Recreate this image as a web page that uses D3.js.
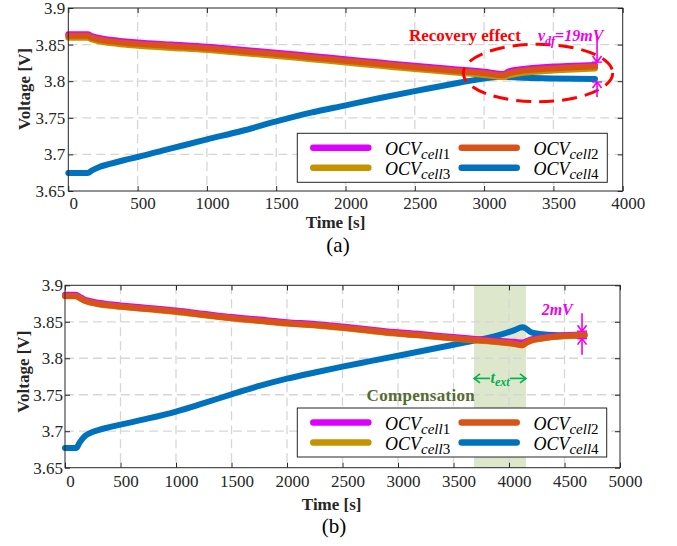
<!DOCTYPE html>
<html>
<head>
<meta charset="utf-8">
<script src="https://cdn.jsdelivr.net/npm/d3@7"></script>
<style>
  html, body { margin: 0; padding: 0; background: #fff; }
  svg { display: block; }
</style>
</head>
<body>
<svg id="chart" width="677" height="546"></svg>
<script>
// ---------- data: panel (a), no compensation ----------
const timeA = [0, 140, 170, 220, 300, 400, 500, 750, 1000, 1250, 1500, 1750, 2000, 2250, 2500, 2750, 3000, 3140, 3180, 3250, 3350, 3500, 3650, 3800];
const cell1A = [3.864, 3.864, 3.8615, 3.859, 3.8565, 3.8545, 3.853, 3.850, 3.847, 3.843, 3.839, 3.8345, 3.830, 3.8255, 3.821, 3.817, 3.813, 3.810, 3.8135, 3.816, 3.818, 3.820, 3.821, 3.822];
const cell2A = [3.862, 3.862, 3.8595, 3.857, 3.8545, 3.8525, 3.851, 3.848, 3.845, 3.841, 3.837, 3.8325, 3.828, 3.8235, 3.819, 3.815, 3.811, 3.808, 3.811, 3.8135, 3.8155, 3.8175, 3.819, 3.820];
const cell3A = [3.8595, 3.8595, 3.857, 3.8545, 3.852, 3.850, 3.8485, 3.8455, 3.8425, 3.8385, 3.8345, 3.830, 3.8255, 3.821, 3.8165, 3.8125, 3.8085, 3.8058, 3.808, 3.8105, 3.8125, 3.8145, 3.816, 3.8175];
const cell4A = [3.6745, 3.6745, 3.678, 3.6825, 3.687, 3.692, 3.6965, 3.7085, 3.7205, 3.732, 3.745, 3.757, 3.767, 3.777, 3.7865, 3.7955, 3.8035, 3.8065, 3.8058, 3.805, 3.8043, 3.8036, 3.8032, 3.803];

// ---------- data: panel (b), with compensation ----------
const timeB = [0, 100, 130, 170, 220, 300, 400, 500, 750, 1000, 1250, 1500, 1750, 2000, 2250, 2500, 2750, 3000, 3250, 3500, 3700, 3900, 4050, 4120, 4150, 4200, 4300, 4400, 4550, 4680];
const cell1B = [3.887, 3.887, 3.8845, 3.881, 3.8785, 3.876, 3.874, 3.8725, 3.869, 3.8655, 3.861, 3.8565, 3.853, 3.8495, 3.847, 3.8435, 3.8395, 3.8355, 3.8325, 3.829, 3.8265, 3.824, 3.8225, 3.8215, 3.823, 3.826, 3.8285, 3.8305, 3.832, 3.833];
const cell2B = [3.8855, 3.8855, 3.883, 3.8795, 3.877, 3.8745, 3.8725, 3.871, 3.8675, 3.864, 3.8595, 3.855, 3.8515, 3.848, 3.8455, 3.842, 3.838, 3.834, 3.831, 3.8275, 3.825, 3.8225, 3.820, 3.818, 3.821, 3.8245, 3.8275, 3.8295, 3.831, 3.832];
const cell3B = [3.885, 3.885, 3.8825, 3.879, 3.8765, 3.874, 3.872, 3.8705, 3.867, 3.8635, 3.859, 3.8545, 3.851, 3.8475, 3.845, 3.8415, 3.8375, 3.8335, 3.8305, 3.827, 3.8245, 3.822, 3.8195, 3.8178, 3.8205, 3.824, 3.827, 3.829, 3.8305, 3.8315];
const cell4B = [3.677, 3.677, 3.684, 3.692, 3.697, 3.7015, 3.7055, 3.709, 3.7175, 3.727, 3.7385, 3.7505, 3.762, 3.772, 3.7805, 3.7885, 3.796, 3.8035, 3.811, 3.8185, 3.8245, 3.8315, 3.8385, 3.8425, 3.841, 3.8355, 3.833, 3.8318, 3.8313, 3.831];
const compensationWindow = [3685, 4153];

// ---------- axes and legend ----------
const xTicksA = [0, 500, 1000, 1500, 2000, 2500, 3000, 3500, 4000];
const xTicksB = [0, 500, 1000, 1500, 2000, 2500, 3000, 3500, 4000, 4500, 5000];
const yTicks = [3.65, 3.7, 3.75, 3.8, 3.85, 3.9];
const yTickLabels = ["3.65", "3.7", "3.75", "3.8", "3.85", "3.9"];
const cellNames = ["cell1", "cell2", "cell3", "cell4"];
const cellColors = { cell1: "#dd00ff", cell2: "#d95319", cell3: "#c39300", cell4: "#0072bd" };
const drawOrder = ["cell4", "cell1", "cell3", "cell2"];

const FONT = '"Liberation Serif", "Times New Roman", Times, serif';
const svg = d3.select("#chart");
svg.append("rect").attr("width", 677).attr("height", 546).attr("fill", "#fff");

function drawPanel(cfg) {
  const g = svg.append("g");
  const x = d3.scaleLinear().domain([0, cfg.xMax]).range([cfg.left, cfg.right]);
  const y = d3.scaleLinear().domain([3.65, 3.9]).range([cfg.bottom, cfg.top]);

  // compensation window shading
  if (cfg.band) {
    g.append("rect")
      .attr("x", x(cfg.band[0])).attr("y", cfg.top)
      .attr("width", x(cfg.band[1]) - x(cfg.band[0]))
      .attr("height", cfg.bottom - cfg.top)
      .attr("fill", "#dde7cb");
  }

  // dashed grid
  const grid = g.append("g").attr("stroke", "#d6d6d6").attr("stroke-width", 1.3).attr("stroke-dasharray", "9,5");
  grid.selectAll(".gx").data(cfg.xTicks.slice(1, -1)).join("line")
    .attr("x1", d => x(d)).attr("x2", d => x(d)).attr("y1", cfg.top).attr("y2", cfg.bottom);
  grid.selectAll(".gy").data(yTicks.slice(1, -1)).join("line")
    .attr("y1", d => y(d)).attr("y2", d => y(d)).attr("x1", cfg.left).attr("x2", cfg.right);

  // voltage curves
  const line = d3.line().x(d => x(d[0])).y(d => y(d[1])).curve(d3.curveMonotoneX);
  drawOrder.forEach(name => {
    const pts = cfg.time.map((t, i) => [t, cfg.series[name][i]]);
    g.append("path").datum(pts)
      .attr("d", line)
      .attr("fill", "none")
      .attr("stroke", cellColors[name])
      .attr("stroke-width", 6)
      .attr("stroke-linecap", "round")
      .attr("stroke-linejoin", "round");
  });

  // axes: ticks pointing inward on all four sides
  const axisColor = "#262626";
  const bottom = g.append("g").attr("transform", `translate(0,${cfg.bottom})`)
    .call(d3.axisBottom(x).tickValues(cfg.xTicks).tickFormat(d3.format("d"))
      .tickSizeInner(-5).tickSizeOuter(0).tickPadding(cfg.xPad));
  const left = g.append("g").attr("transform", `translate(${cfg.left},0)`)
    .call(d3.axisLeft(y).tickValues(yTicks).tickFormat((d, i) => yTickLabels[i])
      .tickSizeInner(-5).tickSizeOuter(0).tickPadding(cfg.yPad));
  const top = g.append("g").attr("transform", `translate(0,${cfg.top})`)
    .call(d3.axisTop(x).tickValues(cfg.xTicks).tickFormat("").tickSizeInner(-5).tickSizeOuter(0));
  const right = g.append("g").attr("transform", `translate(${cfg.right},0)`)
    .call(d3.axisRight(y).tickValues(yTicks).tickFormat("").tickSizeInner(-5).tickSizeOuter(0));
  [bottom, left, top, right].forEach(a => {
    a.select(".domain").remove();
    a.selectAll(".tick line").attr("stroke", axisColor);
    a.selectAll("text").attr("font-family", FONT).attr("font-size", 17).attr("fill", "#262626");
  });
  bottom.selectAll("text").attr("dx", 5);
  g.append("rect")
    .attr("x", cfg.left).attr("y", cfg.top)
    .attr("width", cfg.right - cfg.left).attr("height", cfg.bottom - cfg.top)
    .attr("fill", "none").attr("stroke", axisColor).attr("stroke-width", 1);

  // axis titles
  g.append("text")
    .attr("transform", `translate(${cfg.yTitleX},${cfg.yTitleY}) rotate(-90)`)
    .attr("text-anchor", "middle")
    .attr("font-family", FONT).attr("font-size", 17).attr("font-weight", "bold").attr("fill", "#262626")
    .text("Voltage [V]");
  g.append("text")
    .attr("x", cfg.xTitleX).attr("y", cfg.xTitleY)
    .attr("text-anchor", "middle")
    .attr("font-family", FONT).attr("font-size", 17).attr("font-weight", "bold").attr("fill", "#262626")
    .text("Time [s]");
  g.append("text")
    .attr("x", cfg.capX).attr("y", cfg.capY)
    .attr("text-anchor", "middle")
    .attr("font-family", FONT).attr("font-size", 21).attr("fill", "#000")
    .text(cfg.caption);

  // legend
  const lg = g.append("g").attr("transform", `translate(${cfg.legX},${cfg.legY})`);
  lg.append("rect").attr("width", cfg.legW).attr("height", 49)
    .attr("fill", "#fff").attr("stroke", axisColor).attr("stroke-width", 1);
  const legendSlots = [
    { name: "cell1", col: 0, row: 0 }, { name: "cell2", col: 1, row: 0 },
    { name: "cell3", col: 0, row: 1 }, { name: "cell4", col: 1, row: 1 }
  ];
  legendSlots.forEach(s => {
    const ox = s.col * 148.4, oy = 14.5 + s.row * 20;
    lg.append("line")
      .attr("x1", 16 + ox).attr("x2", 71 + ox).attr("y1", oy).attr("y2", oy)
      .attr("stroke", cellColors[s.name]).attr("stroke-width", 6.5).attr("stroke-linecap", "round");
    const t = lg.append("text")
      .attr("x", 87.7 + ox).attr("y", oy + 7.5)
      .attr("font-family", FONT).attr("fill", "#000");
    t.append("tspan").attr("font-size", 18).attr("font-style", "italic").text("OCV");
    t.append("tspan").attr("font-size", 15).attr("font-style", "italic").attr("dy", 4).text("cell");
    t.append("tspan").attr("font-size", 15).text(s.name.slice(4));
  });

  return { g, x, y };
}

// chevron arrow head at (tx,ty) pointing in direction (dx,dy)
function arrowHead(g, tx, ty, dx, dy, color, len = 6, half = 4.5) {
  const px = -dy, py = dx;
  g.append("path")
    .attr("d", `M${tx - dx * len + px * half},${ty - dy * len + py * half}L${tx},${ty}L${tx - dx * len - px * half},${ty - dy * len - py * half}`)
    .attr("fill", "none").attr("stroke", color).attr("stroke-width", 1.6);
}

// vertical dimension marks: downward arrow onto the upper curve, upward arrow onto the lower one
function dimensionMarks(g, xPos, yTop, yBot, upLen, downLen, color) {
  const tipTop = yTop - 3, tipBot = yBot + 3;
  g.append("line").attr("x1", xPos).attr("x2", xPos).attr("y1", tipTop - upLen).attr("y2", tipTop)
    .attr("stroke", color).attr("stroke-width", 1.6);
  arrowHead(g, xPos, tipTop, 0, 1, color);
  g.append("line").attr("x1", xPos - 5).attr("x2", xPos + 5).attr("y1", tipTop).attr("y2", tipTop)
    .attr("stroke", color).attr("stroke-width", 1.4);
  g.append("line").attr("x1", xPos).attr("x2", xPos).attr("y1", tipBot).attr("y2", tipBot + downLen)
    .attr("stroke", color).attr("stroke-width", 1.6);
  arrowHead(g, xPos, tipBot, 0, -1, color);
  g.append("line").attr("x1", xPos - 5).attr("x2", xPos + 5).attr("y1", tipBot).attr("y2", tipBot)
    .attr("stroke", color).attr("stroke-width", 1.4);
}

// ---------- panel (a) ----------
const pa = drawPanel({
  time: timeA,
  series: { cell1: cell1A, cell2: cell2A, cell3: cell3A, cell4: cell4A },
  xMax: 4000, xTicks: xTicksA,
  left: 68.3, right: 622.7, top: 8, bottom: 191,
  xPad: 6, yPad: 3,
  yTitleX: 30, yTitleY: 89, xTitleX: 335.5, xTitleY: 228,
  capX: 338, capY: 252, caption: "(a)",
  legX: 297.3, legY: 133.3, legW: 310
});
{
  const { g, x, y } = pa;
  const n = timeA.length - 1;
  g.append("ellipse")
    .attr("cx", x(3389)).attr("cy", y(3.8112))
    .attr("rx", x(3389 + 539) - x(3389)).attr("ry", y(3.8112) - y(3.8112 + 0.0392))
    .attr("fill", "none").attr("stroke", "#ff0000").attr("stroke-width", 3)
    .attr("stroke-dasharray", "15,8");
  g.append("text")
    .attr("x", x(2458)).attr("y", y(3.855))
    .attr("font-family", FONT).attr("font-size", 17).attr("font-weight", "bold").attr("fill", "#ff0000")
    .text("Recovery effect");
  const vt = g.append("text")
    .attr("x", x(3389)).attr("y", y(3.855))
    .attr("font-family", FONT).attr("font-weight", "bold").attr("font-style", "italic").attr("fill", "#ee00ee");
  vt.append("tspan").attr("font-size", 16).text("v");
  vt.append("tspan").attr("font-size", 12).attr("dy", 4).text("df");
  vt.append("tspan").attr("font-size", 16).attr("dy", -4).text("=19mV");
  dimensionMarks(g, x(3815), y(cell1A[n]), y(cell4A[n]), 26, 15, "#ee00ee");
}

// ---------- panel (b) ----------
const pb = drawPanel({
  time: timeB,
  series: { cell1: cell1B, cell2: cell2B, cell3: cell3B, cell4: cell4B },
  xMax: 5000, xTicks: xTicksB, band: compensationWindow,
  left: 65, right: 620, top: 285.3, bottom: 467.7,
  xPad: 7.5, yPad: 2,
  yTitleX: 28.5, yTitleY: 371.7, xTitleX: 331.7, xTitleY: 509.5,
  capX: 334, capY: 533, caption: "(b)",
  legX: 297.3, legY: 408, legW: 309.4
});
{
  const { g, x, y } = pb;
  const n = timeB.length - 1;
  const green = "#00b050";
  g.append("text")
    .attr("x", x(compensationWindow[0]) + 1).attr("y", y(3.7414))
    .attr("text-anchor", "end")
    .attr("font-family", FONT).attr("font-size", 17).attr("font-weight", "bold").attr("fill", "#566b30")
    .attr("letter-spacing", 0.3)
    .text("Compensation");
  // duration arrows across the compensation window
  const ay = y(3.7724);
  const x0 = x(compensationWindow[0]), x1 = x(compensationWindow[1]);
  const xm = (x0 + x1) / 2;
  g.append("line").attr("x1", x0).attr("x2", xm - 10).attr("y1", ay).attr("y2", ay)
    .attr("stroke", green).attr("stroke-width", 1.6);
  arrowHead(g, x0, ay, -1, 0, green);
  g.append("line").attr("x1", xm + 10).attr("x2", x1).attr("y1", ay).attr("y2", ay)
    .attr("stroke", green).attr("stroke-width", 1.6);
  arrowHead(g, x1, ay, 1, 0, green);
  const tt = g.append("text")
    .attr("x", xm).attr("y", ay + 5).attr("text-anchor", "middle")
    .attr("font-family", FONT).attr("font-weight", "bold").attr("font-style", "italic").attr("fill", green);
  tt.append("tspan").attr("font-size", 16).text("t");
  tt.append("tspan").attr("font-size", 12).attr("dy", 3).text("ext");

  g.append("text")
    .attr("x", x(4294)).attr("y", y(3.8593))
    .attr("font-family", FONT).attr("font-size", 16).attr("font-weight", "bold").attr("font-style", "italic")
    .attr("fill", "#ee00ee")
    .text("2mV");
  dimensionMarks(g, x(4658), y(cell1B[n]), y(cell4B[n]), 18, 16, "#ee00ee");
}
</script>
</body>
</html>
